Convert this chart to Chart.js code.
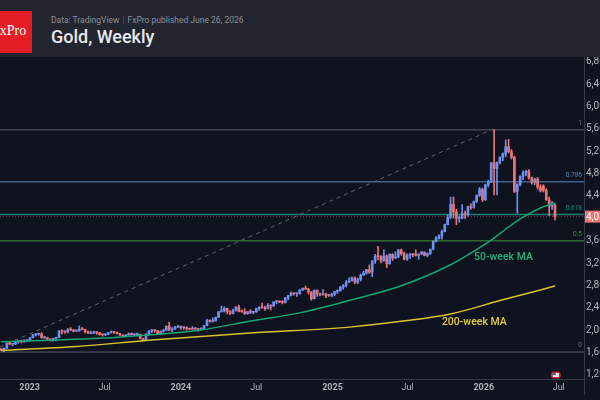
<!DOCTYPE html>
<html>
<head>
<meta charset="utf-8">
<script src="https://cdn.jsdelivr.net/npm/chart.js@4.4.1/dist/chart.umd.min.js"></script>
<style>
  html, body { margin: 0; padding: 0; background: #0f1320; }
  #wrap { position: relative; width: 600px; height: 400px; overflow: hidden; background: #0f1320; font-family: Roboto, 'Noto Sans', sans-serif; }
  #chart { position: absolute; left: 0; top: 0; }
  #head { position: absolute; left: 0; top: 0; width: 600px; height: 57px; background: #22252f; z-index: 2; }
  #logo { position: absolute; left: 0; top: 11px; width: 32px; height: 42px; background: #e31e24; overflow: hidden; }
  #logo span { position: absolute; left: -8px; top: 12px; font-family: 'Liberation Serif', 'DejaVu Serif', serif; font-size: 14px; line-height: 16px; color: #fff; }
  #sub { position: absolute; left: 51px; top: 16px; font-size: 8.5px; line-height: 8px; color: #8d909a; white-space: nowrap; }
  #sub i { font-style: normal; color: #5c5f69; padding: 0 3px; }
  #title { position: absolute; left: 51px; top: 28px; font-size: 18px; line-height: 18px; color: #e8e9ed; font-weight: 500; white-space: nowrap; }
</style>
</head>
<body>
<div id="wrap">
  <canvas id="chart" width="600" height="400"></canvas>
  <div id="head">
    <div id="logo"><span>FxPro</span></div>
    <div id="sub">Data: TradingView<i>|</i>FxPro published June 26, 2026</div>
    <div id="title">Gold, Weekly</div>
  </div>
</div>
<script>
// weekly candles, first one = week of 24 Oct 2022
const opens = [1655,1644,1681,1771,1751,1755,1797,1797,1793,1798,
  1824,1866,1920,1926,1929,1865,1865,1842,1811,1856,
  1868,1989,1978,1969,2007,2004,1983,1990,2017,2011,
  1977,1946,1948,1961,1958,1921,1919,1925,1955,1962,
  1959,1943,1914,1889,1914,1940,1919,1924,1925,1848,
  1832,1932,1981,2006,1992,1940,1981,2001,2072,2004,
  2019,2053,2063,2045,2049,2029,2018,2039,2024,2013,
  2035,2083,2179,2156,2165,2230,2330,2344,2392,2337,
  2301,2360,2415,2334,2327,2294,2333,2321,2326,2392,
  2411,2400,2386,2443,2431,2507,2512,2503,2497,2578,
  2622,2658,2653,2657,2721,2747,2736,2685,2563,2715,
  2650,2633,2648,2622,2621,2640,2690,2703,2770,2798,
  2861,2883,2936,2858,2910,2984,3022,3085,3038,3237,
  3327,3319,3241,3325,3187,3357,3289,3310,3432,3368,
  3274,3337,3355,3350,3337,3363,3398,3336,3371,3447,
  3586,3643,3685,3760,3886,4018,4250,4113,4000,4000,
  4085,4065,4210,4195,4300,4410,4520,4330,4600,4650,
  4990,4890,5000,5090,5150,5280,5190,5090,4480,4600,
  4750,4810,4840,4720,4640,4700,4560,4580,4500,4330,
  4220,4230];
const highs = [1675,1682,1774,1787,1761,1804,1810,1824,1833,1833,
  1870,1922,1937,1949,1960,1890,1870,1848,1858,1870,
  1990,2009,1988,2032,2048,2015,2009,2079,2048,2022,
  1985,1983,1985,1971,1960,1926,1935,1962,1987,1982,
  1971,1946,1916,1926,1953,1952,1933,1947,1929,1855,
  1934,1997,2009,2009,1994,1988,2017,2075,2146,2047,
  2070,2088,2079,2062,2062,2037,2065,2044,2031,2041,
  2088,2195,2185,2222,2236,2331,2431,2418,2395,2353,
  2378,2422,2450,2364,2388,2336,2368,2339,2392,2424,
  2483,2432,2477,2454,2509,2531,2528,2529,2586,2625,
  2685,2670,2665,2722,2758,2790,2750,2690,2721,2721,
  2665,2726,2665,2639,2665,2697,2726,2786,2817,2886,
  2942,2955,2956,2930,3005,3057,3087,3168,3245,3358,
  3500,3335,3435,3345,3366,3365,3403,3446,3452,3398,
  3366,3375,3375,3438,3365,3409,3400,3379,3452,3600,
  3675,3707,3791,3897,4059,4380,4382,4160,4046,4245,
  4130,4220,4260,4310,4420,4550,4540,4610,4680,5000,
  5590,5010,5100,5170,5400,5410,5230,5110,4620,4760,
  4850,4860,4870,4740,4720,4730,4600,4600,4530,4380,
  4300,4260];
const lows = [1638,1616,1672,1747,1721,1744,1765,1773,1785,1797,
  1824,1866,1896,1911,1861,1852,1819,1809,1805,1810,
  1868,1935,1944,1950,1992,1970,1975,1980,2008,1952,
  1937,1932,1940,1925,1912,1893,1902,1922,1950,1943,
  1929,1908,1885,1884,1912,1915,1901,1913,1846,1810,
  1832,1917,1953,1966,1932,1931,1965,1994,1993,1973,
  2016,2049,2016,2013,2001,2010,2016,2014,1984,2008,
  2025,2079,2146,2146,2165,2229,2325,2325,2291,2277,
  2291,2340,2326,2325,2286,2287,2296,2293,2319,2353,
  2394,2353,2380,2364,2426,2470,2491,2471,2485,2546,
  2615,2625,2604,2643,2708,2730,2643,2537,2558,2605,
  2614,2627,2583,2603,2596,2615,2657,2701,2730,2773,
  2851,2880,2833,2832,2880,2982,3000,3015,2957,3193,
  3260,3202,3228,3120,3180,3245,3280,3294,3340,3255,
  3247,3282,3310,3325,3268,3350,3330,3311,3352,3436,
  3578,3627,3628,3758,3884,3990,4004,3886,3930,3997,
  4000,4040,4160,4180,4280,4390,4300,4320,4560,4640,
  4420,4420,4970,5030,5100,5170,5060,4460,4090,4580,
  4690,4760,4700,4610,4600,4520,4470,4470,4320,4050,
  4160,3970];
const closes = [1644,1681,1771,1751,1755,1797,1797,1793,1798,1824,
  1866,1920,1926,1929,1865,1865,1842,1811,1856,1868,
  1989,1978,1969,2007,2004,1983,1990,2017,2011,1977,
  1946,1948,1961,1958,1921,1919,1925,1955,1962,1959,
  1943,1914,1889,1914,1940,1919,1924,1925,1848,1832,
  1932,1981,2006,1992,1940,1981,2001,2072,2004,2019,
  2053,2063,2045,2049,2029,2018,2039,2024,2013,2035,
  2083,2179,2156,2165,2230,2330,2344,2392,2337,2301,
  2360,2415,2334,2327,2294,2333,2321,2326,2392,2411,
  2400,2386,2443,2431,2507,2512,2503,2497,2578,2622,
  2658,2653,2657,2721,2747,2736,2685,2563,2715,2650,
  2633,2648,2622,2621,2640,2690,2703,2770,2798,2861,
  2883,2936,2858,2910,2984,3022,3085,3038,3237,3327,
  3319,3241,3325,3187,3357,3289,3310,3432,3368,3274,
  3337,3355,3350,3337,3363,3398,3336,3371,3447,3586,
  3643,3685,3760,3886,4018,4250,4113,4000,4000,4085,
  4065,4210,4195,4300,4410,4520,4330,4600,4650,4990,
  4890,5000,5090,5150,5280,5190,5090,4480,4600,4750,
  4810,4840,4720,4640,4700,4560,4490,4500,4330,4220,
  4260,4030];

// moving averages (week index, price)
const ma50Weeks  = [0, 17, 34, 52, 69, 86, 103, 121, 138, 155, 162, 169, 175, 180, 186, 191];
const ma50Values = [1795, 1822, 1855, 1920, 2005, 2165, 2310, 2545, 2795, 3170, 3380, 3610, 3845, 4020, 4185, 4275];
const ma200Weeks  = [0, 26, 52, 86, 121, 138, 155, 172, 186, 191];
const ma200Values = [1640, 1710, 1825, 1950, 2060, 2160, 2290, 2530, 2720, 2790];

// fibonacci retracement levels
const fibLabels = ['1', '0.786', '0.618', '0.5', '0'];
const fibPrices = [5580, 4655, 4070, 3600, 1610];
const fibColors = ['#5b5e68', '#3f6390', '#0e7f70', '#2f6a2c', '#5b5e68'];
const fibTextColors = ['#6c6f78', '#5c82ad', '#14907a', '#3a8a36', '#6c6f78'];
const trendFrom = { week: -0.345, price: 1700 };
const trendTo = { week: 169.3, price: 5585 };

// axis ticks
const tickDates = [[2023,1,1],[2023,7,1],[2024,1,1],[2024,7,1],[2025,1,1],[2025,7,1],[2026,1,1],[2026,7,1]];
const tickLabels = ['2023', 'Jul', '2024', 'Jul', '2025', 'Jul', '2026', 'Jul'];
const priceTicks = [1200, 1600, 2000, 2400, 2800, 3200, 3600, 4000, 4400, 4800, 5200, 5600, 6000, 6400, 6800];
const eventDate = [2026, 6, 24];

const UP = '#6f92f0';
const DOWN = '#ef7374';
const BORDER = '#363a46';
const TEXT = '#b2b5be';
const FONT = "Roboto, 'Noto Sans', sans-serif";

const FIRST_WEEK = Date.UTC(2022, 9, 24);
const WEEK_MS = 7 * 864e5;
function weekOf(d) { return (Date.UTC(d[0], d[1] - 1, d[2]) - FIRST_WEEK) / WEEK_MS; }

const X_MIN = -0.345, X_MAX = 201.0;
const lastClose = closes[closes.length - 1];
const isUp = i => closes[i] >= opens[i];

const datasets = [
  {
    type: 'bar', label: 'wicks', order: 2, grouped: false, barThickness: 1, borderWidth: 0,
    data: highs.map((h, i) => ({ x: i, y: [lows[i], h] })),
    backgroundColor: ctx => isUp(ctx.dataIndex) ? UP : DOWN
  },
  {
    type: 'bar', label: 'bodies', order: 1, grouped: false, barThickness: 2, borderWidth: 0, minBarLength: 1,
    data: closes.map((c, i) => ({ x: i, y: [opens[i], c] })),
    backgroundColor: ctx => isUp(ctx.dataIndex) ? UP : DOWN
  },
  {
    type: 'line', label: '50-week MA', order: 0, borderColor: '#18a572', borderWidth: 1.5,
    pointRadius: 0, cubicInterpolationMode: 'monotone',
    data: ma50Weeks.map((w, i) => ({ x: w, y: ma50Values[i] }))
  },
  {
    type: 'line', label: '200-week MA', order: 0, borderColor: '#d9c42c', borderWidth: 1.5,
    pointRadius: 0, cubicInterpolationMode: 'monotone',
    data: ma200Weeks.map((w, i) => ({ x: w, y: ma200Values[i] }))
  },
  {
    type: 'line', label: 'trend', order: 3, borderColor: '#5f636e', borderWidth: 1, borderDash: [4, 4],
    pointRadius: 0,
    data: [{ x: trendFrom.week, y: trendFrom.price }, { x: trendTo.week, y: trendTo.price }]
  },
  {
    type: 'line', label: 'last', order: 3, borderColor: 'rgba(239,115,116,0.45)', borderWidth: 1, borderDash: [1, 2],
    pointRadius: 0,
    data: [{ x: X_MIN, y: lastClose }, { x: X_MAX, y: lastClose }]
  }
];
fibPrices.forEach((p, i) => {
  datasets.push({
    type: 'line', label: 'fib ' + fibLabels[i], order: 4, borderColor: fibColors[i],
    borderWidth: (i === 0 || i === 4) ? 1 : 1.5, pointRadius: 0,
    data: [{ x: X_MIN, y: p }, { x: X_MAX, y: p }]
  });
});

const extras = {
  id: 'extras',
  afterDraw(chart) {
    const { ctx, chartArea, scales } = chart;
    const xs = scales.x, ys = scales.y;
    ctx.save();
    // axis line continues into the date strip
    ctx.strokeStyle = BORDER;
    ctx.lineWidth = 1;
    ctx.beginPath();
    ctx.moveTo(Math.round(chartArea.right) + 0.5, chartArea.bottom);
    ctx.lineTo(Math.round(chartArea.right) + 0.5, chartArea.bottom + 16);
    ctx.stroke();

    // fib level labels
    ctx.font = '6.5px ' + FONT;
    ctx.textAlign = 'right';
    ctx.textBaseline = 'bottom';
    fibPrices.forEach((p, i) => {
      ctx.fillStyle = fibTextColors[i];
      ctx.fillText(fibLabels[i], chartArea.right - 2, ys.getPixelForValue(p) - 3);
    });

    // MA captions
    ctx.font = '500 10.5px ' + FONT;
    ctx.textAlign = 'left';
    ctx.textBaseline = 'middle';
    ctx.fillStyle = '#1fb07a';
    ctx.fillText('50-week MA', xs.getPixelForValue(163.1), ys.getPixelForValue(3309));
    ctx.fillStyle = '#e3cd38';
    ctx.fillText('200-week MA', xs.getPixelForValue(152.0), ys.getPixelForValue(2147));

    // last price tag
    const py = ys.getPixelForValue(lastClose);
    ctx.fillStyle = DOWN;
    ctx.fillRect(chartArea.right + 1, py - 6, 20, 12);
    ctx.fillStyle = '#ffffff';
    ctx.font = '10px ' + FONT;
    ctx.fillText(lastClose.toLocaleString('en-US'), chartArea.right + 2, py + 0.5);

    // event marker on the date strip
    const ex = xs.getPixelForValue(weekOf(eventDate));
    const ey = chartArea.bottom - 4;
    ctx.fillStyle = '#c62f36';
    ctx.beginPath();
    ctx.roundRect(ex - 5, ey - 3.5, 10, 7, 3.5);
    ctx.fill();
    ctx.fillStyle = '#e9e9ee';
    ctx.fillRect(ex - 3, ey - 2, 6, 4);
    ctx.fillStyle = '#3a5bb5';
    ctx.fillRect(ex - 3, ey - 2, 3, 2);
    ctx.restore();
  }
};

new Chart(document.getElementById('chart'), {
  type: 'bar',
  data: { datasets: datasets },
  options: {
    responsive: false,
    animation: false,
    events: [],
    layout: { padding: { top: 20, left: 0, right: 0, bottom: 0 } },
    plugins: { legend: { display: false }, tooltip: { enabled: false } },
    scales: {
      x: {
        type: 'linear', offset: false, bounds: 'data', min: X_MIN, max: X_MAX,
        grid: { display: false, drawTicks: false },
        border: { display: true, color: BORDER, width: 1 },
        afterFit: s => { s.height = 21; },
        afterBuildTicks: s => { s.ticks = tickDates.map(d => ({ value: weekOf(d) })); },
        ticks: {
          autoSkip: false, maxRotation: 0, padding: 3, color: TEXT,
          font: ctx => ({ family: FONT, size: 9, weight: /^\d/.test(tickLabels[ctx.index] || '') ? 'bold' : 'normal' }),
          callback: (v, i) => tickLabels[i]
        }
      },
      y: {
        type: 'linear', position: 'right', bounds: 'data', min: 1128.5, max: 7544,
        grid: { display: false, drawTicks: false },
        border: { display: true, color: BORDER, width: 1 },
        afterFit: s => { s.width = 16; },
        afterBuildTicks: s => { s.ticks = priceTicks.map(v => ({ value: v })); },
        ticks: {
          autoSkip: false, padding: 2, color: TEXT,
          font: { family: FONT, size: 10 },
          callback: v => Math.abs(v - lastClose) < 150 ? '' : v.toLocaleString('en-US')
        }
      }
    }
  },
  plugins: [extras]
});
</script>
</body>
</html>
